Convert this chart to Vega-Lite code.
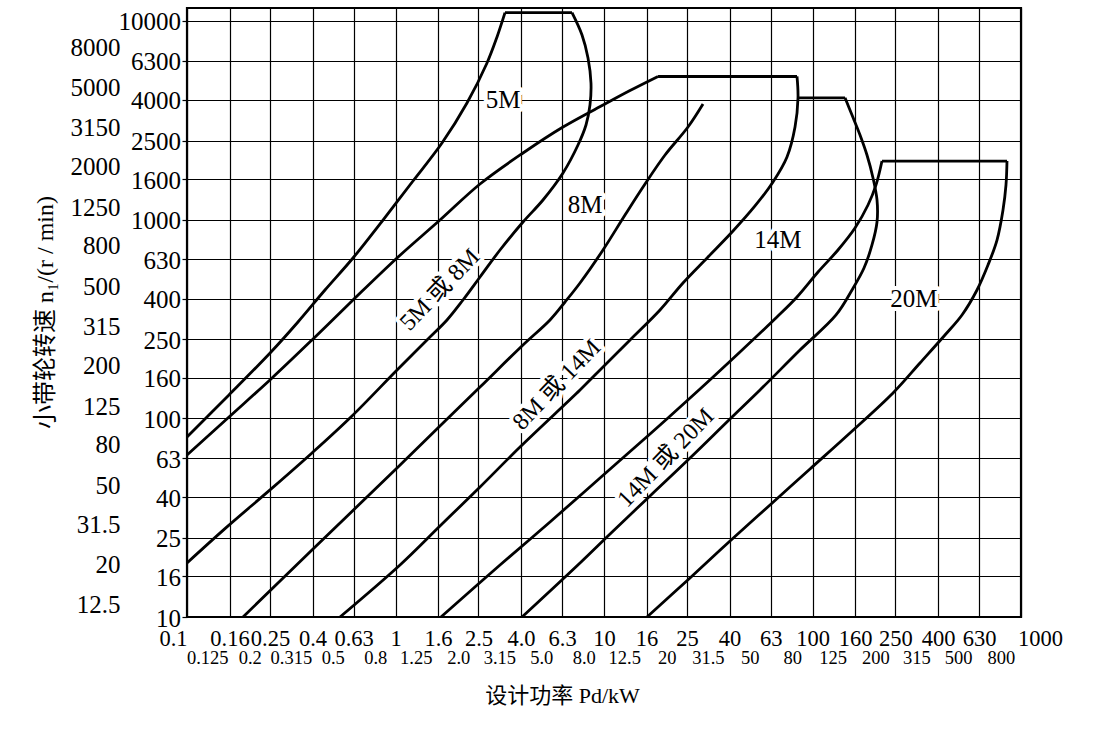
{
  "$schema": "https://vega.github.io/schema/vega-lite/v6.json",
  "width": 834,
  "height": 609,
  "autosize": {"type": "none"},
  "padding": {"left": 187, "top": 8, "right": 98, "bottom": 118},
  "background": "white",
  "config": {"view": {"stroke": "#000", "strokeWidth": 2.2}},
  "datasets": {
    "curves": [
      {"s": "5M-L", "i": 0, "p": 0.1, "n": 80.5},
      {"s": "5M-L", "i": 1, "p": 0.159, "n": 131},
      {"s": "5M-L", "i": 2, "p": 0.2529, "n": 215.6},
      {"s": "5M-L", "i": 3, "p": 0.3406, "n": 305.3},
      {"s": "5M-L", "i": 4, "p": 0.459, "n": 442.3},
      {"s": "5M-L", "i": 5, "p": 0.6254, "n": 640.9},
      {"s": "5M-L", "i": 6, "p": 0.871, "n": 995},
      {"s": "5M-L", "i": 7, "p": 1.213, "n": 1564},
      {"s": "5M-L", "i": 8, "p": 1.671, "n": 2429},
      {"s": "5M-L", "i": 9, "p": 2.202, "n": 3863},
      {"s": "5M-L", "i": 10, "p": 2.747, "n": 6140},
      {"s": "5M-L", "i": 11, "p": 3.068, "n": 8299},
      {"s": "5M-L", "i": 12, "p": 3.351, "n": 11000},
      {"s": "5M-T", "i": 0, "p": 3.351, "n": 11000},
      {"s": "5M-T", "i": 1, "p": 7.023, "n": 11000},
      {"s": "5M-R", "i": 0, "p": 7.023, "n": 11000},
      {"s": "5M-R", "i": 1, "p": 7.845, "n": 8492},
      {"s": "5M-R", "i": 2, "p": 8.381, "n": 6506},
      {"s": "5M-R", "i": 3, "p": 8.661, "n": 4869},
      {"s": "5M-R", "i": 4, "p": 8.567, "n": 3775},
      {"s": "5M-R", "i": 5, "p": 8.197, "n": 2993},
      {"s": "5M-R", "i": 6, "p": 7.504, "n": 2373},
      {"s": "5M-R", "i": 7, "p": 6.359, "n": 1716},
      {"s": "5M-R", "i": 8, "p": 5.097, "n": 1255},
      {"s": "5M-R", "i": 9, "p": 4.088, "n": 972.5},
      {"s": "5M-R", "i": 10, "p": 3.171, "n": 703},
      {"s": "5M-R", "i": 11, "p": 2.543, "n": 514.1},
      {"s": "5M-R", "i": 12, "p": 2.107, "n": 393.9},
      {"s": "5M-R", "i": 13, "p": 1.766, "n": 312.4},
      {"s": "5M-R", "i": 14, "p": 1.416, "n": 247.8},
      {"s": "5M-R", "i": 15, "p": 1.017, "n": 175},
      {"s": "5M-R", "i": 16, "p": 0.6185, "n": 102.7},
      {"s": "5M-R", "i": 17, "p": 0.3977, "n": 66.9},
      {"s": "5M-R", "i": 18, "p": 0.2501, "n": 43.6},
      {"s": "5M-R", "i": 19, "p": 0.1555, "n": 28.4},
      {"s": "5M-R", "i": 20, "p": 0.1, "n": 18.7},
      {"s": "8M-L", "i": 0, "p": 0.1, "n": 65.36},
      {"s": "8M-L", "i": 1, "p": 0.159, "n": 101.5},
      {"s": "8M-L", "i": 2, "p": 0.2529, "n": 157.7},
      {"s": "8M-L", "i": 3, "p": 0.3977, "n": 247.8},
      {"s": "8M-L", "i": 4, "p": 0.6185, "n": 389.3},
      {"s": "8M-L", "i": 5, "p": 1.017, "n": 640.9},
      {"s": "8M-L", "i": 6, "p": 1.634, "n": 995},
      {"s": "8M-L", "i": 7, "p": 2.543, "n": 1511},
      {"s": "8M-L", "i": 8, "p": 4.088, "n": 2164},
      {"s": "8M-L", "i": 9, "p": 6.359, "n": 2924},
      {"s": "8M-L", "i": 10, "p": 10.11, "n": 3818},
      {"s": "8M-L", "i": 11, "p": 13.33, "n": 4460},
      {"s": "8M-L", "i": 12, "p": 18.16, "n": 5250},
      {"s": "8M-T", "i": 0, "p": 18.16, "n": 5250},
      {"s": "8M-T", "i": 1, "p": 84.27, "n": 5250},
      {"s": "8M-R", "i": 0, "p": 84.27, "n": 5250},
      {"s": "8M-R", "i": 1, "p": 85.21, "n": 4100},
      {"s": "8M-R", "i": 2, "p": 82.44, "n": 2924},
      {"s": "8M-R", "i": 3, "p": 75.45, "n": 2065},
      {"s": "8M-R", "i": 4, "p": 64.65, "n": 1546},
      {"s": "8M-R", "i": 5, "p": 52.99, "n": 1171},
      {"s": "8M-R", "i": 6, "p": 41.56, "n": 876.2},
      {"s": "8M-R", "i": 7, "p": 31.54, "n": 648.4},
      {"s": "8M-R", "i": 8, "p": 23.92, "n": 479.7},
      {"s": "8M-R", "i": 9, "p": 18.56, "n": 350.8},
      {"s": "8M-R", "i": 10, "p": 13.33, "n": 247.8},
      {"s": "8M-R", "i": 11, "p": 9.568, "n": 175},
      {"s": "8M-R", "i": 12, "p": 7.672, "n": 138.8},
      {"s": "8M-R", "i": 13, "p": 3.955, "n": 71.7},
      {"s": "8M-R", "i": 14, "p": 2.543, "n": 45.1},
      {"s": "8M-R", "i": 15, "p": 1.634, "n": 28.7},
      {"s": "8M-R", "i": 16, "p": 1.051, "n": 18.27},
      {"s": "8M-R", "i": 17, "p": 0.5418, "n": 10},
      {"s": "14M-L", "i": 0, "p": 0.1856, "n": 10},
      {"s": "14M-L", "i": 1, "p": 0.4021, "n": 21.99},
      {"s": "14M-L", "i": 2, "p": 1.017, "n": 56.22},
      {"s": "14M-L", "i": 3, "p": 1.634, "n": 91.47},
      {"s": "14M-L", "i": 4, "p": 2.543, "n": 143.7},
      {"s": "14M-L", "i": 5, "p": 4.088, "n": 233.8},
      {"s": "14M-L", "i": 6, "p": 5.508, "n": 312.4},
      {"s": "14M-L", "i": 7, "p": 6.5, "n": 384.8},
      {"s": "14M-L", "i": 8, "p": 7.672, "n": 479.7},
      {"s": "14M-L", "i": 9, "p": 9.89, "n": 703},
      {"s": "14M-L", "i": 10, "p": 12.61, "n": 1055},
      {"s": "14M-L", "i": 11, "p": 15.73, "n": 1511},
      {"s": "14M-L", "i": 12, "p": 19.62, "n": 2114},
      {"s": "14M-L", "i": 13, "p": 25.28, "n": 2924},
      {"s": "14M-L", "i": 14, "p": 29.84, "n": 3818},
      {"s": "14M-T", "i": 0, "p": 85.21, "n": 4100},
      {"s": "14M-T", "i": 1, "p": 143.2, "n": 4100},
      {"s": "14M-R", "i": 0, "p": 143.2, "n": 4100},
      {"s": "14M-R", "i": 1, "p": 154.7, "n": 3361},
      {"s": "14M-R", "i": 2, "p": 169, "n": 2666},
      {"s": "14M-R", "i": 3, "p": 182.5, "n": 2114},
      {"s": "14M-R", "i": 4, "p": 195.1, "n": 1620},
      {"s": "14M-R", "i": 5, "p": 203.9, "n": 1255},
      {"s": "14M-R", "i": 6, "p": 203.9, "n": 972.5},
      {"s": "14M-R", "i": 7, "p": 192.9, "n": 745.1},
      {"s": "14M-R", "i": 8, "p": 176.6, "n": 570.6},
      {"s": "14M-R", "i": 9, "p": 154.7, "n": 442.3},
      {"s": "14M-R", "i": 10, "p": 129.7, "n": 331.1},
      {"s": "14M-R", "i": 11, "p": 87.1, "n": 220.6},
      {"s": "14M-R", "i": 12, "p": 56, "n": 138.8},
      {"s": "14M-R", "i": 13, "p": 40.21, "n": 99.2},
      {"s": "14M-R", "i": 14, "p": 25.85, "n": 63.1},
      {"s": "14M-R", "i": 15, "p": 16.62, "n": 40.64},
      {"s": "14M-R", "i": 16, "p": 10.69, "n": 26.17},
      {"s": "14M-R", "i": 17, "p": 7.672, "n": 18.7},
      {"s": "14M-R", "i": 18, "p": 4.044, "n": 10},
      {"s": "20M-T", "i": 0, "p": 215.4, "n": 1970},
      {"s": "20M-T", "i": 1, "p": 856.7, "n": 1970},
      {"s": "20M-L", "i": 0, "p": 215.4, "n": 1970},
      {"s": "20M-L", "i": 1, "p": 201.7, "n": 1494},
      {"s": "20M-L", "i": 2, "p": 184.6, "n": 1184},
      {"s": "20M-L", "i": 3, "p": 159.9, "n": 907.1},
      {"s": "20M-L", "i": 4, "p": 132.5, "n": 703},
      {"s": "20M-L", "i": 5, "p": 106.3, "n": 544.8},
      {"s": "20M-L", "i": 6, "p": 84.27, "n": 407.8},
      {"s": "20M-L", "i": 7, "p": 67.55, "n": 323.4},
      {"s": "20M-L", "i": 8, "p": 44.9, "n": 215.6},
      {"s": "20M-L", "i": 9, "p": 28.87, "n": 140.4},
      {"s": "20M-L", "i": 10, "p": 16.62, "n": 83.37},
      {"s": "20M-L", "i": 11, "p": 9.568, "n": 50.07},
      {"s": "20M-L", "i": 12, "p": 5.508, "n": 30.07},
      {"s": "20M-L", "i": 13, "p": 3.171, "n": 18.27},
      {"s": "20M-L", "i": 14, "p": 1.652, "n": 10},
      {"s": "20M-R", "i": 0, "p": 856.7, "n": 1970},
      {"s": "20M-R", "i": 1, "p": 847.3, "n": 1494},
      {"s": "20M-R", "i": 2, "p": 819.7, "n": 1118},
      {"s": "20M-R", "i": 3, "p": 767.2, "n": 789.3},
      {"s": "20M-R", "i": 4, "p": 694.5, "n": 590.8},
      {"s": "20M-R", "i": 5, "p": 615.2, "n": 442.3},
      {"s": "20M-R", "i": 6, "p": 521.2, "n": 331.1},
      {"s": "20M-R", "i": 7, "p": 431.9, "n": 262.5},
      {"s": "20M-R", "i": 8, "p": 327.7, "n": 189.8},
      {"s": "20M-R", "i": 9, "p": 243.3, "n": 134.1},
      {"s": "20M-R", "i": 10, "p": 151.3, "n": 84.33},
      {"s": "20M-R", "i": 11, "p": 97.27, "n": 55.57},
      {"s": "20M-R", "i": 12, "p": 62.55, "n": 36.62},
      {"s": "20M-R", "i": 13, "p": 40.21, "n": 24.13},
      {"s": "20M-R", "i": 14, "p": 25.85, "n": 15.72},
      {"s": "20M-R", "i": 15, "p": 16.08, "n": 10}
    ],
    "labels": [
      {"t": "5M", "p": 3.28, "n": 4000},
      {"t": "8M", "p": 8.11, "n": 1190},
      {"t": "14M", "p": 68.3, "n": 785},
      {"t": "20M", "p": 306, "n": 400}
    ],
    "rlabels": [
      {"t": "5M 或 8M", "p": 1.635, "n": 442},
      {"t": "8M 或 14M", "p": 5.95, "n": 147},
      {"t": "14M 或 20M", "p": 19.84, "n": 63.1}
    ]
  },
  "encoding": {
    "x": {
      "field": "p",
      "type": "quantitative",
      "scale": {"type": "log", "domain": [0.1, 1000], "nice": false},
      "axis": {
        "values": [0.1, 0.125, 0.16, 0.2, 0.25, 0.315, 0.4, 0.5, 0.63, 0.8, 1, 1.25, 1.6, 2, 2.5, 3.15, 4, 5, 6.3, 8, 10, 12.5, 16, 20, 25, 31.5, 40, 50, 63, 80, 100, 125, 160, 200, 250, 315, 400, 500, 630, 800, 1000],
        "labelExpr": "indexof([2,4,5,8], datum.value) >= 0 ? format(datum.value, '.1f') : format(datum.value, '~g')",
        "labelOverlap": false,
        "labelFlush": false,
        "labelBound": false,
        "ticks": false,
        "domain": false,
        "grid": true,
        "gridColor": "#000",
        "gridWidth": 1.2,
        "gridOpacity": {"condition": {"test": "round(log(datum.value)/LN10*10) % 2 != 0", "value": 0}, "value": 1},
        "labelFont": "Liberation Serif",
        "labelColor": "#000",
        "labelBaseline": "top",
        "labelFontSize": {"condition": {"test": "round(log(datum.value)/LN10*10) % 2 != 0", "value": 18.5}, "value": 22.5},
        "labelPadding": {"condition": {"test": "round(log(datum.value)/LN10*10) % 2 != 0", "value": 31}, "value": 10},
        "labelAlign": {"condition": {"test": "datum.value == 0.1", "value": "right"}, "value": "center"},
        "labelOffset": {"condition": {"test": "datum.value == 1000", "value": 19}, "value": 0},
        "title": "设计功率 Pd/kW",
        "titleFont": "Liberation Serif, Noto Sans CJK SC",
        "titleFontSize": 22,
        "titleFontWeight": "normal",
        "titleColor": "#000",
        "titleX": 375,
        "titleY": 78,
        "titleBaseline": "middle",
        "titleAlign": "center"
      }
    },
    "y": {
      "field": "n",
      "type": "quantitative",
      "scale": {"type": "log", "domain": [10, 11610], "nice": false},
      "axis": {
        "values": [10, 12.5, 16, 20, 25, 31.5, 40, 50, 63, 80, 100, 125, 160, 200, 250, 315, 400, 500, 630, 800, 1000, 1250, 1600, 2000, 2500, 3150, 4000, 5000, 6300, 8000, 10000],
        "labelExpr": "format(datum.value, '~g')",
        "labelOverlap": false,
        "labelFlush": false,
        "labelBound": false,
        "domain": false,
        "ticks": true,
        "tickSize": 5,
        "tickColor": "#000",
        "tickWidth": 1.2,
        "tickOpacity": {"condition": {"test": "round(log(datum.value)/LN10*10) % 2 != 0", "value": 0}, "value": 1},
        "grid": true,
        "gridColor": "#000",
        "gridWidth": 1.2,
        "gridOpacity": {"condition": {"test": "round(log(datum.value)/LN10*10) % 2 != 0", "value": 0}, "value": 1},
        "labelFont": "Liberation Serif",
        "labelColor": "#000",
        "labelFontSize": 25,
        "labelPadding": {"condition": {"test": "round(log(datum.value)/LN10*10) % 2 != 0", "value": 62}, "value": 1.5},
        "labelOffset": {"condition": {"test": "round(log(datum.value)/LN10*10) % 2 != 0", "value": 7}, "value": 1},
        "title": "小带轮转速 n₁/(r / min)",
        "titleFont": "Liberation Serif, Noto Sans CJK SC",
        "titleFontSize": 24,
        "titleFontWeight": "normal",
        "titleColor": "#000",
        "titleX": -142,
        "titleY": 304,
        "titleAngle": 270,
        "titleBaseline": "middle",
        "titleAlign": "center"
      }
    }
  },
  "layer": [
    {
      "data": {"name": "rlabels"},
      "mark": {"type": "text", "angle": -46, "font": "Liberation Serif, Noto Sans CJK SC", "fontSize": 24, "fill": "white", "stroke": "white", "strokeWidth": 8, "strokeJoin": "round"},
      "encoding": {"text": {"field": "t"}}
    },
    {
      "data": {"name": "labels"},
      "mark": {"type": "text", "font": "Liberation Serif, Noto Sans CJK SC", "fontSize": 25, "fill": "white", "stroke": "white", "strokeWidth": 8, "strokeJoin": "round"},
      "encoding": {"text": {"field": "t"}}
    },
    {
      "data": {"name": "curves"},
      "mark": {"type": "line", "interpolate": "catmull-rom", "color": "#000", "strokeWidth": 2.8},
      "encoding": {
        "detail": {"field": "s"},
        "order": {"field": "i", "type": "quantitative"}
      }
    },
    {
      "data": {"name": "rlabels"},
      "mark": {"type": "text", "angle": -46, "font": "Liberation Serif, Noto Sans CJK SC", "fontSize": 24, "color": "#000"},
      "encoding": {"text": {"field": "t"}}
    },
    {
      "data": {"name": "labels"},
      "mark": {"type": "text", "font": "Liberation Serif, Noto Sans CJK SC", "fontSize": 25, "color": "#000"},
      "encoding": {"text": {"field": "t"}}
    }
  ]
}
